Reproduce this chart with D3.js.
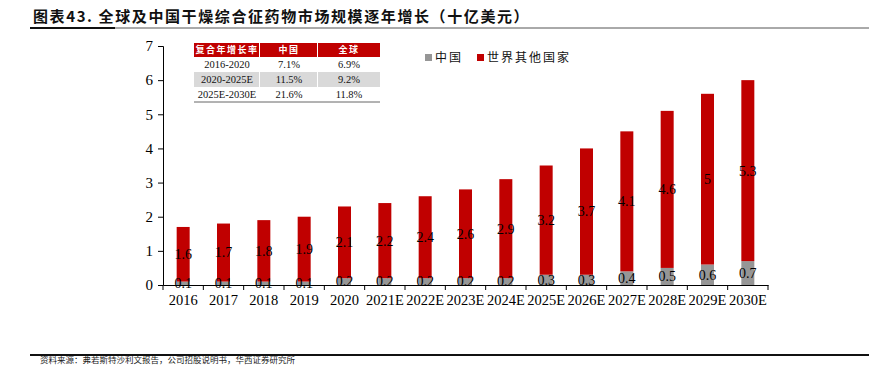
<!DOCTYPE html>
<html>
<head>
<meta charset="utf-8">
<script src="https://cdn.jsdelivr.net/npm/d3@7"></script>
<style>
  body { margin: 0; background: #fff; }
  svg { display: block; }
</style>
</head>
<body>
<div id="chart"></div>
<script>
// data
const years = ["2016", "2017", "2018", "2019", "2020", "2021E", "2022E", "2023E", "2024E", "2025E", "2026E", "2027E", "2028E", "2029E", "2030E"];
const china = [0.1, 0.1, 0.1, 0.1, 0.2, 0.2, 0.2, 0.2, 0.2, 0.3, 0.3, 0.4, 0.5, 0.6, 0.7];
const restOfWorld = [1.6, 1.7, 1.8, 1.9, 2.1, 2.2, 2.4, 2.6, 2.9, 3.2, 3.7, 4.1, 4.6, 5, 5.3];
const seriesNames = ["中国", "世界其他国家"];
const yTicks = [0, 1, 2, 3, 4, 5, 6, 7];

const tableHead = ["复合年增长率", "中国", "全球"];
const tablePeriods = ["2016-2020", "2020-2025E", "2025E-2030E"];
const tableChina = ["7.1%", "11.5%", "21.6%"];
const tableGlobal = ["6.9%", "9.2%", "11.8%"];

const width = 869, height = 366;
const serif = "'Liberation Serif', 'Times New Roman', serif";
const cjk = "'Noto Sans CJK SC', sans-serif";
const grey = "#969696", red = "#c00000";

const svg = d3.select("#chart").append("svg")
    .attr("width", width)
    .attr("height", height);

// title + rules
svg.append("text")
    .attr("x", 33).attr("y", 22)
    .attr("font-family", cjk)
    .attr("font-size", 15)
    .attr("font-weight", "bold")
    .attr("letter-spacing", 1.6)
    .attr("fill", "#111")
    .text("图表43.  全球及中国干燥综合征药物市场规模逐年增长（十亿美元）");

svg.append("line").attr("x1", 30).attr("x2", width).attr("y1", 28).attr("y2", 28)
    .attr("stroke", "#555").attr("stroke-width", 1);
svg.append("line").attr("x1", 30).attr("x2", 115).attr("y1", 28).attr("y2", 28)
    .attr("stroke", "#111").attr("stroke-width", 2);
svg.append("line").attr("x1", 30).attr("x2", width).attr("y1", 355).attr("y2", 355)
    .attr("stroke", "#111").attr("stroke-width", 2);

svg.append("text")
    .attr("x", 40).attr("y", 363)
    .attr("font-family", cjk)
    .attr("font-size", 8.5)
    .attr("fill", "#222")
    .text("资料来源：弗若斯特沙利文报告，公司招股说明书，华西证券研究所");

// scales
const x = d3.scaleBand().domain(years).range([163, 768]).padding(0);
const y = d3.scaleLinear().domain([0, 7]).range([285, 46]);
const barW = 13;

const stacked = years.map((yr, i) => ({ year: yr, china: china[i], rest: restOfWorld[i] }));

// axes
const yAxis = svg.append("g")
    .attr("transform", "translate(163,0)")
    .call(d3.axisLeft(y).tickValues(yTicks).tickSize(5).tickFormat(d3.format("d")));
yAxis.select(".domain").attr("stroke", "#000");
yAxis.selectAll("text")
    .attr("font-family", serif)
    .attr("font-size", 15)
    .attr("fill", "#000")
    .attr("x", -10);

const xAxis = svg.append("g")
    .attr("transform", "translate(0,285)")
    .call(d3.axisBottom(x).tickSize(0).tickSizeOuter(0));
xAxis.select(".domain").attr("stroke", "#000");
xAxis.selectAll("text")
    .attr("font-family", serif)
    .attr("font-size", 14.5)
    .attr("fill", "#000")
    .attr("dy", "1.2em");
// category separators
svg.append("g").selectAll("line")
    .data(years.concat(["end"]))
    .join("line")
    .attr("x1", (d, i) => 163 + i * x.bandwidth())
    .attr("x2", (d, i) => 163 + i * x.bandwidth())
    .attr("y1", 285).attr("y2", 290)
    .attr("stroke", "#000");

// bars
const bars = svg.append("g");
bars.selectAll(".china")
    .data(stacked)
    .join("rect")
    .attr("class", "china")
    .attr("x", d => x(d.year) + x.bandwidth() / 2 - barW / 2)
    .attr("width", barW)
    .attr("y", d => y(d.china))
    .attr("height", d => y(0) - y(d.china))
    .attr("fill", grey);

bars.selectAll(".rest")
    .data(stacked)
    .join("rect")
    .attr("class", "rest")
    .attr("x", d => x(d.year) + x.bandwidth() / 2 - barW / 2)
    .attr("width", barW)
    .attr("y", d => y(d.china + d.rest))
    .attr("height", d => y(d.china) - y(d.china + d.rest))
    .attr("fill", red);

// labels
const labels = svg.append("g")
    .attr("font-family", serif)
    .attr("font-size", 14)
    .attr("fill", "#000")
    .attr("text-anchor", "middle");
labels.selectAll(".lc")
    .data(stacked)
    .join("text")
    .attr("x", d => x(d.year) + x.bandwidth() / 2)
    .attr("y", d => y(d.china / 2))
    .attr("dy", "0.35em")
    .text(d => d.china);
labels.selectAll(".lr")
    .data(stacked)
    .join("text")
    .attr("x", d => x(d.year) + x.bandwidth() / 2)
    .attr("y", d => y(d.china + d.rest / 2))
    .attr("dy", "0.35em")
    .text(d => d.rest);

// legend
const legend = svg.append("g").attr("transform", "translate(425,54)");
const legX = [0, 52];
seriesNames.forEach((name, i) => {
    legend.append("rect")
        .attr("x", legX[i]).attr("y", 0)
        .attr("width", 7).attr("height", 7)
        .attr("fill", i === 0 ? grey : red);
    legend.append("text")
        .attr("x", legX[i] + 10).attr("y", 8)
        .attr("font-family", cjk)
        .attr("font-size", 12)
        .attr("letter-spacing", 2)
        .attr("fill", "#111")
        .text(name);
});

// CAGR table
const tbl = svg.append("g");
const colX = [194, 260, 318, 380];
const rowY = [43, 57, 72, 87, 102];
tbl.selectAll(".hd")
    .data(tableHead)
    .join("rect")
    .attr("x", (d, i) => colX[i])
    .attr("y", rowY[0])
    .attr("width", (d, i) => colX[i + 1] - colX[i] - (i < 2 ? 1 : 0))
    .attr("height", rowY[1] - rowY[0])
    .attr("fill", red);
tbl.selectAll(".ht")
    .data(tableHead)
    .join("text")
    .attr("x", (d, i) => (colX[i] + colX[i + 1]) / 2)
    .attr("y", (rowY[0] + rowY[1]) / 2)
    .attr("dy", "0.36em")
    .attr("text-anchor", "middle")
    .attr("font-family", cjk)
    .attr("font-size", 9)
    .attr("font-weight", "bold")
    .attr("letter-spacing", 1.5)
    .attr("fill", "#fff")
    .text(d => d);
[0, 1, 2].forEach(c => {
    tbl.append("rect")
        .attr("x", colX[c]).attr("y", rowY[2])
        .attr("width", colX[c + 1] - colX[c] - (c < 2 ? 1 : 0))
        .attr("height", rowY[3] - rowY[2])
        .attr("fill", "#d9d9d9");
});
tablePeriods.forEach((p, r) => {
    const row = [p, tableChina[r], tableGlobal[r]];
    row.forEach((v, c) => {
        tbl.append("text")
            .attr("x", (colX[c] + colX[c + 1]) / 2)
            .attr("y", (rowY[r + 1] + rowY[r + 2]) / 2)
            .attr("dy", "0.35em")
            .attr("text-anchor", "middle")
            .attr("font-family", serif)
            .attr("font-size", 10.5)
            .attr("fill", "#111")
            .text(v);
    });
});
tbl.append("line")
    .attr("x1", colX[0]).attr("x2", colX[3])
    .attr("y1", rowY[4]).attr("y2", rowY[4])
    .attr("stroke", "#666").attr("stroke-width", 1);
</script>
</body>
</html>
